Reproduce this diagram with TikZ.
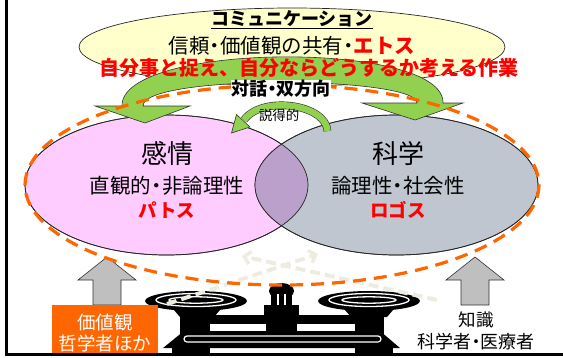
\documentclass[tikz,border=0pt]{standalone}
\usepackage{fontspec}
\setmainfont{Noto Sans CJK JP}
\usetikzlibrary{arrows.meta}

\definecolor{panelyellow}{HTML}{FFFFCC}
\definecolor{leafgreen}{HTML}{92D050}
\definecolor{pathospink}{HTML}{FFCCFF}
\definecolor{logosgray}{HTML}{BFC6CF}
\definecolor{blendpurple}{HTML}{BBA0CB}
\definecolor{flameorange}{HTML}{FF6600}
\definecolor{alertred}{HTML}{FF0000}
\definecolor{arrowgray}{HTML}{BFBFBF}
\definecolor{paperbeige}{HTML}{EEECE1}

\newcommand\setfs[1]{\fontsize{#1}{#1}\selectfont}
% half-width middle dot
\newcommand\mdot{\kern-0.24em・\kern-0.24em}

\begin{document}
\begin{tikzpicture}[x=1pt,y=-1pt,
  txt/.style={inner sep=0pt, align=center},
  outline/.style={draw=black!80, line width=0.6pt},
  thinline/.style={draw=black!85, line width=0.7pt},
  bluntarrow/.style={fill=arrowgray, draw=black!80, line width=0.6pt},
  beigedash/.style={draw=paperbeige, line width=4pt, dash pattern=on 10pt off 5pt,
                    -{Straight Barb[length=6pt, width=13pt, line width=3.5pt]}},
  orangering/.style={draw=flameorange, line width=3.2pt, dash pattern=on 13pt off 8pt}]

\useasboundingbox (0,0) rectangle (563,357);

% slide frame (left and bottom edges)
\draw[line width=3pt] (6.5,0) -- (6.5,354) -- (563,354);

% communication bubble
\filldraw[fill=panelyellow, thinline] (292,47) ellipse [x radius=213, y radius=39];

% emotion and science ellipses with their overlap
\filldraw[fill=pathospink, thinline] (166.5,185) ellipse [x radius=141.5, y radius=70];
\filldraw[fill=logosgray, thinline] (396.5,185) ellipse [x radius=141.5, y radius=70];
\begin{scope}
  \clip (166.5,185) ellipse [x radius=141.5, y radius=70];
  \fill[blendpurple] (396.5,185) ellipse [x radius=141.5, y radius=70];
\end{scope}
\draw[thinline] (166.5,185) ellipse [x radius=141.5, y radius=70];
\draw[thinline] (396.5,185) ellipse [x radius=141.5, y radius=70];

% two-way curved green arrow
\filldraw[fill=leafgreen, outline]
  (95,106) -- (122,106) .. controls (120,42) and (445,40) .. (443,103)
  -- (463,103) -- (415,120) -- (362,103) -- (417,103)
  .. controls (417,76) and (143,74) .. (143,106)
  -- (190,106) -- (145,123) -- cycle;

% headings in the bubble
\node[txt, font=\setfs{18}\bfseries] (title) at (292,20) {\underline{コミュニケーション}};
\node[txt, font=\setfs{20.5}] (ethos) at (292,46)
  {信頼\mdot 価値観の共有\mdot{\bfseries\color{alertred}エトス}};
\node[txt, font=\setfs{20}\bfseries, text=alertred] (task) at (309,68)
  {自分事と捉え、自分ならどうするか考える作業};

% balance scale
\begin{scope}
  \fill (168,303) -- (226,303) -- (214,317) -- (180,317) -- cycle;
  \fill (339,303) -- (399,303) -- (387,317) -- (351,317) -- cycle;
  \fill (196,301) ellipse [x radius=51, y radius=10];
  \fill (369,301) ellipse [x radius=51, y radius=10];
  \draw[white, line width=1.3pt] (196,300) ellipse [x radius=40, y radius=6.5];
  \draw[white, line width=1.3pt] (196,300) ellipse [x radius=27, y radius=3.2];
  \draw[white, line width=1.3pt] (369,300) ellipse [x radius=40, y radius=6.5];
  \draw[white, line width=1.3pt] (369,300) ellipse [x radius=27, y radius=3.2];
  \fill (180,315) rectangle (384,324);
  \fill (281.5,291) ellipse [x radius=12.5, y radius=8];
  \fill (271,291) rectangle (292,306);
  \fill (264,305) -- (299,305) -- (299,318) -- (264,318) -- cycle;
  \draw[white, line width=1.5pt] (278,294) -- (278,305);
  \draw[white, line width=1.5pt] (285,294) -- (285,305);
  \fill (180,323) rectangle (210,334);
  \fill (266,323) rectangle (297,334);
  \fill (355,323) rectangle (384,334);
  \fill (184,331) -- (380,331) -- (400,348) -- (163,348) -- cycle;
  \fill (172,346) rectangle (210,353);
  \fill (355,346) rectangle (393,353);
  \draw[white, line width=1.2pt, rounded corners=3pt] (184,336) rectangle (381,342);
\end{scope}

% faint crossing arrows above the scale
\coordinate (lpan) at (167,304);
\coordinate (rpan) at (437,300);
\coordinate (lhead) at (242,256);
\coordinate (rhead) at (318,254);
\draw[beigedash] (rpan) -- (lhead);
\draw[beigedash] (lpan) -- (rhead);

% upward block arrows
\filldraw[bluntarrow] (107,257) -- (136,280) -- (121,280) -- (121,305)
  -- (93,305) -- (93,280) -- (78,280) -- cycle;
\filldraw[bluntarrow] (475,257) -- (504,280) -- (489,280) -- (489,305)
  -- (461,305) -- (461,280) -- (446,280) -- cycle;

% dashed ring around both ellipses
\draw[orangering] (282,185) ellipse [x radius=257, y radius=100];

% dialogue label
\node[txt, fill=white, inner ysep=0.5pt, font=\setfs{18}\bfseries] (dialog) at (281,89) {対話\mdot 双方向};

% persuasion arrow
\draw[draw=black!80, line width=0.6pt, double=leafgreen, double distance=6.5pt]
  (327.5,131) .. controls (326,104) and (262,95) .. (244,120);
\filldraw[fill=leafgreen, outline] (236.5,114.5) -- (250,127) -- (231.5,133) -- cycle;
\node[txt, font=\setfs{13.5}] (persuade) at (279,115) {説得的};

% ellipse texts
\node[txt, font=\setfs{26}] (emotion) at (167,154) {感情};
\node[txt, font=\setfs{20.5}] (intuit) at (167,186) {直観的\mdot 非論理性};
\node[txt, font=\setfs{18.5}\bfseries, text=alertred] (pathos) at (167,210) {パトス};
\node[txt, font=\setfs{26}] (science) at (398,154) {科学};
\node[txt, font=\setfs{20.5}] (logic) at (398,186) {論理性\mdot 社会性};
\node[txt, font=\setfs{18.5}\bfseries, text=alertred] (logos) at (398,210) {ロゴス};

% value box and knowledge label
\fill[flameorange] (52,305) rectangle (158,352.5);
\node[txt, font=\setfs{18.5}, text=white] (values) at (105,322) {価値観};
\node[txt, font=\setfs{18.5}, text=white] (philo) at (105,343) {哲学者ほか};
\node[txt, font=\setfs{17.5}] (knowledge) at (476,320) {知識};
\node[txt, font=\setfs{18}] (experts) at (476,342) {科学者\mdot 医療者};

\end{tikzpicture}
\end{document}
